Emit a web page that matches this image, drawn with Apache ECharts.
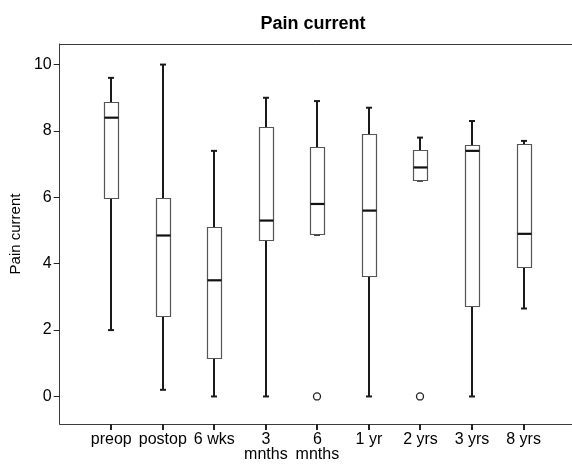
<!DOCTYPE html>
<html><head><meta charset="utf-8">
<script src="https://cdn.jsdelivr.net/npm/echarts@6/dist/echarts.min.js"></script>
<style>html,body{margin:0;padding:0;background:#fff}#c{width:572px;height:469px}</style>
</head><body><div id="c"></div>
<script>
const categories = ['preop', 'postop', '6 wks', '3\nmnths', '6\nmnths', '1 yr', '2 yrs', '3 yrs', '8 yrs'];
const lowWhisker  = [2.0, 0.2, 0,    0,   4.87, 0,   6.5, 0,    2.65];
const q1          = [5.95, 2.4, 1.13, 4.7, 4.87, 3.6, 6.5, 2.7,  3.9];
const median      = [8.4, 4.85, 3.5,  5.3, 5.8,  5.6, 6.9, 7.4,  4.9];
const q3          = [8.85, 5.95, 5.1, 8.1, 7.5,  7.9, 7.4, 7.55, 7.6];
const highWhisker = [9.6, 10,   7.4,  9.0, 8.9,  8.7, 7.8, 8.3,  7.7];
const outlierCats = ['6\nmnths', '2 yrs'];
const outlierVals = [0, 0];
const yTicks = [0, 2, 4, 6, 8, 10];
const yMin = -0.83, yMax = 10.62;
const xMin = 0, xMax = 9.94;

const FONT = "'Liberation Sans', Arial, sans-serif";
const chart = echarts.init(document.getElementById('c'), null, {renderer: 'canvas'});

const xPositions = categories.map((c, i) => i + 1);
const boxData = categories.map((c, i) => [xPositions[i], lowWhisker[i], q1[i], median[i], q3[i], highWhisker[i]]);
const outData = outlierCats.map((c, i) => [xPositions[categories.indexOf(c)], outlierVals[i]]);

function snap(v) { return Math.round(v - 0.5) + 0.5; }

const BOXW = 14, CAPW = 6, TICKLEN = 6;
function renderItem(params, api) {
  const xv = api.value(0);
  const pLo = api.coord([xv, api.value(1)]);
  const pQ1 = api.coord([xv, api.value(2)]);
  const pMed = api.coord([xv, api.value(3)]);
  const pQ3 = api.coord([xv, api.value(4)]);
  const pHi = api.coord([xv, api.value(5)]);
  const pAxis = api.coord([xv, yMin]);
  const cx = Math.round(pMed[0]);
  const x0 = Math.round(cx - BOXW / 2) + 0.5;
  const yq3 = snap(pQ3[1]), yq1 = snap(pQ1[1]);
  const wStyle = {stroke: '#1a1a1a', lineWidth: 2};
  const capStyle = {stroke: '#1a1a1a', lineWidth: 2};
  const children = [];
  if (pHi[1] < yq3 - 0.5) {
    children.push({type: 'line', shape: {x1: cx, y1: pHi[1], x2: cx, y2: yq3}, style: wStyle});
  }
  children.push({type: 'line', shape: {x1: cx - CAPW / 2, y1: pHi[1], x2: cx + CAPW / 2, y2: pHi[1]}, style: capStyle});
  if (pLo[1] > yq1 + 0.5) {
    children.push({type: 'line', shape: {x1: cx, y1: yq1, x2: cx, y2: pLo[1]}, style: wStyle});
  }
  children.push({type: 'line', shape: {x1: cx - CAPW / 2, y1: pLo[1], x2: cx + CAPW / 2, y2: pLo[1]}, style: capStyle});
  children.push({type: 'rect', shape: {x: x0, y: yq3, width: BOXW, height: yq1 - yq3}, style: {fill: '#fff', stroke: '#555', lineWidth: 1.2}});
  children.push({type: 'line', shape: {x1: x0, y1: pMed[1], x2: x0 + BOXW, y2: pMed[1]}, style: {stroke: '#111', lineWidth: 2.2}});
  // category tick mark below the x axis
  children.push({type: 'rect', shape: {x: cx - 1, y: Math.round(pAxis[1]), width: 2, height: TICKLEN}, style: {fill: '#222'}});
  return {type: 'group', children};
}

function renderOutlier(params, api) {
  const p = api.coord([api.value(0), api.value(1)]);
  return {type: 'circle', shape: {cx: Math.round(p[0]), cy: p[1], r: 3.5},
          style: {fill: '#fff', stroke: '#222', lineWidth: 1.3}};
}

const axisColor = '#3a3a3a';
const option = {
  animation: false,
  backgroundColor: '#fff',
  textStyle: {fontFamily: FONT},
  graphic: [{
    type: 'text', x: 313, y: 24,
    style: {text: 'Pain current', align: 'center', verticalAlign: 'middle', font: "bold 18px 'Liberation Sans', Arial, sans-serif", fill: '#000'}
  }],
  grid: [{left: 59, right: 0, top: 44, bottom: 45, show: false}],
  xAxis: [
    {type: 'value', min: xMin, max: xMax, position: 'bottom',
     axisLine: {show: true, onZero: false, lineStyle: {color: axisColor, width: 1}},
     axisTick: {show: false},
     axisLabel: {customValues: xPositions, fontSize: 16, color: '#000', margin: 8, lineHeight: 15, fontFamily: FONT,
                 formatter: v => categories[Math.round(v) - 1] || ''},
     splitLine: {show: false}},
    {type: 'value', min: xMin, max: xMax, position: 'top',
     axisLine: {show: true, onZero: false, lineStyle: {color: axisColor, width: 1}},
     axisTick: {show: false}, axisLabel: {show: false}, splitLine: {show: false}}
  ],
  yAxis: [
    {type: 'value', min: yMin, max: yMax,
     axisLine: {show: true, onZero: false, lineStyle: {color: axisColor, width: 1}},
     axisTick: {show: true, customValues: yTicks, length: 6, lineStyle: {color: '#222'}},
     axisLabel: {customValues: yTicks, fontSize: 16, color: '#000', margin: 8, fontFamily: FONT},
     splitLine: {show: false},
     name: 'Pain current', nameLocation: 'middle', nameRotate: 90, nameGap: 35,
     nameTextStyle: {fontSize: 15, color: '#000', fontFamily: FONT}}
  ],
  series: [
    {type: 'custom', data: boxData, renderItem, encode: {x: 0, y: [1, 2, 3, 4, 5]}, clip: false, z: 10},
    {type: 'custom', data: outData, renderItem: renderOutlier, encode: {x: 0, y: 1}, z: 11}
  ]
};
chart.setOption(option);
</script></body></html>
